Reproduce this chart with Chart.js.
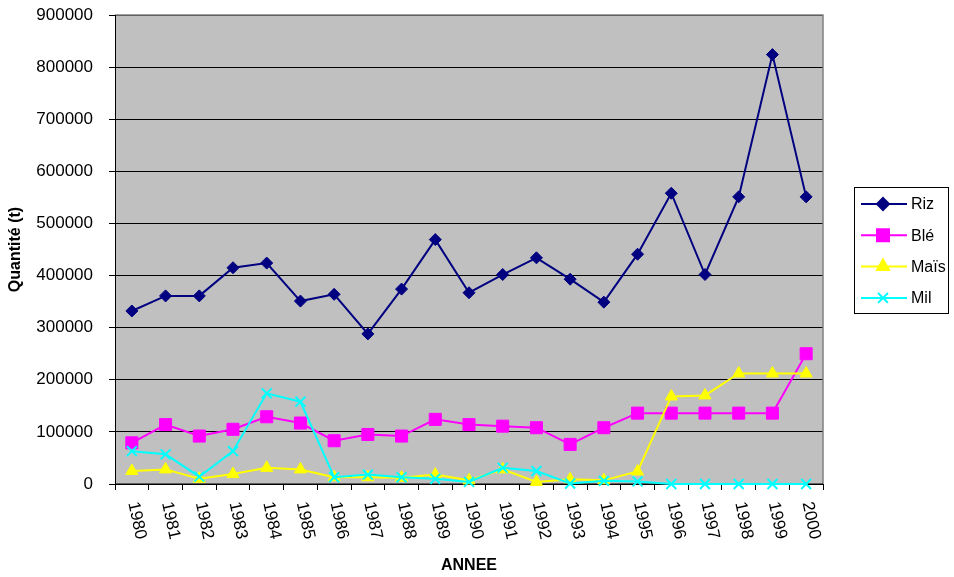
<!DOCTYPE html>
<html>
<head>
<meta charset="utf-8">
<script src="https://cdn.jsdelivr.net/npm/chart.js@4.4.1/dist/chart.umd.min.js"></script>
<style>
  html, body { margin: 0; padding: 0; background: #fff; }
  #wrap { width: 954px; height: 577px; position: relative; }
</style>
</head>
<body>
<div id="wrap"><canvas id="chart"></canvas></div>
<script>
// Years on the x axis
const YEARS = ['1980', '1981', '1982', '1983', '1984', '1985', '1986', '1987', '1988', '1989', '1990',
  '1991', '1992', '1993', '1994', '1995', '1996', '1997', '1998', '1999', '2000']

// Quantities (t)
const RIZ = [332000, 361000, 361000, 415000, 424000, 351000, 364000, 288000, 374000, 469000, 367000,
  402000, 434000, 393000, 349000, 441000, 558000, 402000, 551000, 824000, 551000]
const BLE = [79000, 114000, 92000, 105000, 129000, 117000, 83000, 95000, 92000, 124000, 114000,
  111000, 108000, 76000, 108000, 136000, 136000, 136000, 136000, 136000, 250000]
const MAIS = [25000, 28000, 10000, 19000, 31000, 28000, 13000, 13000, 12000, 18000, 7000,
  28000, 4000, 9000, 7000, 24000, 168000, 170000, 212000, 212000, 212000]
const MIL = [63000, 57000, 14000, 63000, 174000, 158000, 13000, 18000, 13000, 10000, 4000,
  31000, 25000, 1000, 6000, 5000, 0, 0, 0, 0, 0]

const Y_MAX = 900000
const Y_STEP = 100000

const FONT = 'Liberation Sans, Arial, sans-serif'

const SERIES = [
  { label: 'Riz', data: RIZ, color: '#000080', style: 'rectRot', radius: 6 },
  { label: 'Blé', data: BLE, color: '#FF00FF', style: 'rect', radius: 8.5 },
  { label: 'Maïs', data: MAIS, color: '#FFFF00', style: 'triangle', radius: 7 },
  { label: 'Mil', data: MIL, color: '#00FFFF', style: 'crossRot', radius: 7 },
]

/**
 * Grey plot background + frame.
 */
const plotAreaPlugin = {
  id: 'plotArea',
  beforeDraw(chart) {
    const { ctx, chartArea: a } = chart
    ctx.save()
    ctx.fillStyle = '#C0C0C0'
    ctx.fillRect(a.left, a.top, a.right - a.left, a.bottom - a.top)
    ctx.restore()
  },
  beforeDatasetsDraw(chart) {
    const { ctx, chartArea: a } = chart
    ctx.save()
    ctx.lineWidth = 1.5
    ctx.strokeStyle = '#808080'
    ctx.beginPath()
    ctx.moveTo(a.left, a.top)
    ctx.lineTo(a.right, a.top)
    ctx.lineTo(a.right, a.bottom)
    ctx.stroke()
    ctx.strokeStyle = '#000'
    ctx.lineWidth = 1
    ctx.beginPath()
    ctx.moveTo(a.left + 0.5, a.top)
    ctx.lineTo(a.left + 0.5, a.bottom)
    ctx.lineTo(a.right, a.bottom)
    ctx.stroke()
    ctx.restore()
  },
}

/**
 * Year labels written top-to-bottom (clockwise), like the original.
 */
const yearLabelsPlugin = {
  id: 'yearLabels',
  afterDraw(chart) {
    const { ctx } = chart
    const xScale = chart.scales.x
    ctx.save()
    ctx.fillStyle = '#000'
    ctx.font = `17px ${FONT}`
    ctx.textAlign = 'left'
    ctx.textBaseline = 'middle'
    chart.data.labels.forEach((lbl, i) => {
      const x = xScale.getPixelForValue(i)
      ctx.save()
      ctx.translate(x + 1, xScale.top + 18)
      ctx.rotate(78 * Math.PI / 180)
      ctx.fillText(lbl, 0, 0)
      ctx.restore()
    })
    ctx.restore()
  },
}

/**
 * Boxed legend on the right with line + marker samples.
 */
const boxLegendPlugin = {
  id: 'boxLegend',
  afterDraw(chart) {
    const { ctx } = chart
    const box = { x: 854, y: 187, w: 94, h: 126 }
    ctx.save()
    ctx.fillStyle = '#fff'
    ctx.fillRect(box.x, box.y, box.w, box.h)
    ctx.strokeStyle = '#000'
    ctx.lineWidth = 1
    ctx.strokeRect(box.x + 0.5, box.y + 0.5, box.w, box.h)
    ctx.font = `16px ${FONT}`
    ctx.textBaseline = 'middle'
    ctx.textAlign = 'left'
    chart.data.datasets.forEach((ds, i) => {
      const y = box.y + 17 + i * 31.3
      ctx.strokeStyle = ds.borderColor
      ctx.lineWidth = 2
      ctx.beginPath()
      ctx.moveTo(box.x + 7, y)
      ctx.lineTo(box.x + 53, y)
      ctx.stroke()
      ctx.fillStyle = ds.borderColor
      ctx.lineWidth = 2
      Chart.helpers.drawPoint(ctx, { pointStyle: ds.pointStyle, radius: ds.pointRadius, rotation: 0, borderWidth: 2 }, box.x + 29, y)
      ctx.fillStyle = '#000'
      ctx.fillText(ds.label, box.x + 57, y + 1)
    })
    ctx.restore()
  },
}

const ctx = document.getElementById('chart').getContext('2d')

new Chart(ctx, {
  type: 'line',
  data: {
    labels: YEARS,
    datasets: SERIES.map((s, i) => ({
      label: s.label,
      data: s.data,
      borderColor: s.color,
      backgroundColor: s.color,
      pointBackgroundColor: s.color,
      pointBorderColor: s.color,
      pointStyle: s.style,
      pointRadius: s.radius,
      pointBorderWidth: s.style === 'crossRot' ? 2 : 1,
      borderWidth: 2,
      tension: 0,
      clip: false,
      order: SERIES.length - i,
    })),
  },
  options: {
    responsive: true,
    maintainAspectRatio: false,
    animation: false,
    layout: {
      padding: { top: 15, right: 131, left: 0, bottom: 0 },
    },
    plugins: {
      legend: { display: false },
      tooltip: { enabled: false },
    },
    scales: {
      x: {
        offset: true,
        afterFit: (scale) => {
          scale.height = 93
          scale.paddingLeft = 0
          scale.paddingRight = 0
        },
        grid: {
          offset: true,
          drawOnChartArea: false,
          drawTicks: true,
          tickLength: 6,
          color: '#000',
        },
        border: { display: false },
        ticks: { display: false },
        title: {
          display: true,
          text: 'ANNEE',
          color: '#000',
          font: { family: FONT, size: 16, weight: 'bold' },
          padding: { top: 0, bottom: 2 },
        },
      },
      y: {
        min: 0,
        max: Y_MAX,
        afterFit: (scale) => {
          scale.width = 115
          scale.paddingTop = 0
          scale.paddingBottom = 0
        },
        grid: {
          color: '#000',
          lineWidth: 1,
          drawTicks: true,
          tickLength: 6,
        },
        border: { display: false },
        ticks: {
          stepSize: Y_STEP,
          color: '#000',
          padding: 16,
          font: { family: FONT, size: 17 },
          callback: (val) => String(val),
        },
        title: {
          display: true,
          text: 'Quantité (t)',
          color: '#000',
          font: { family: FONT, size: 16, weight: 'bold' },
          padding: { top: 6, bottom: 0 },
        },
      },
    },
  },
  plugins: [plotAreaPlugin, yearLabelsPlugin, boxLegendPlugin],
})
</script>
</body>
</html>
